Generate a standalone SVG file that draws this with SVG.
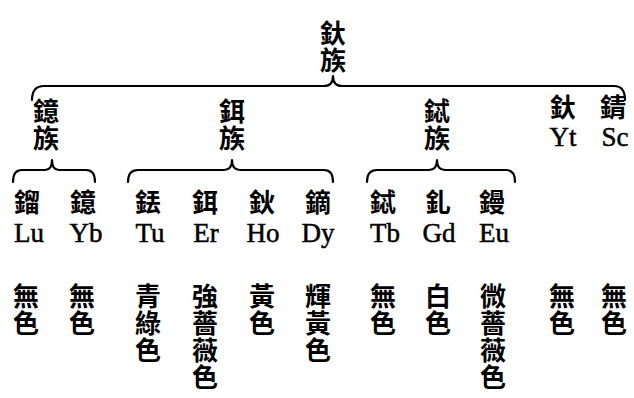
<svg xmlns="http://www.w3.org/2000/svg" width="634" height="398" viewBox="0 0 634 398">
<style>
.c{font-family:"Noto Sans CJK TC","Noto Sans CJK JP",sans-serif;font-size:26px;font-weight:bold;fill:#000;text-anchor:middle}
.v{font-family:"Noto Sans CJK TC","Noto Sans CJK JP",sans-serif;font-size:26px;font-weight:bold;fill:#000;writing-mode:vertical-rl;letter-spacing:1px}
.l{font-family:"Liberation Serif",serif;font-size:27px;fill:#000;stroke:#000;stroke-width:0.5;text-anchor:middle}
.b{fill:none;stroke:#000;stroke-width:2.2;stroke-linecap:round;stroke-linejoin:round}
</style>
<rect width="634" height="398" fill="#fff"/>
<g id="connectors">
<path class="b" d="M32,100 Q32,86 44,86 L324,86 Q333,86 333,76 Q333,86 342,86 L614,86 Q625,86 625,100"/>
<path class="b" d="M13,182 Q13,170 22,170 L45,170 Q52,170 52,160 Q52,170 59,170 L86,170 Q95,170 95,182"/>
<path class="b" d="M128,182 Q128,170 138,170 L224,170 Q232,170 232,160 Q232,170 240,170 L324,170 Q333,170 333,182"/>
<path class="b" d="M367,182 Q367,170 377,170 L429,170 Q437,170 437,160 Q437,170 445,170 L506,170 Q515,170 515,182"/>
</g>
<g id="root"><text class="v" x="333" y="20">釱族</text></g>
<g id="yb-group"><text class="v" x="46" y="98">鐿族</text></g>
<g id="er-group"><text class="v" x="232" y="98">鉺族</text></g>
<g id="tb-group"><text class="v" x="437" y="98">鋱族</text></g>
<g id="yt"><text class="c" x="563" y="117">釱</text><text class="l" x="563" y="146">Yt</text><text class="v" x="562" y="283">無色</text></g>
<g id="sc"><text class="c" x="613" y="117">錆</text><text class="l" x="615" y="146">Sc</text><text class="v" x="614" y="283">無色</text></g>
<g id="lu"><text class="c" x="27" y="212">鎦</text><text class="l" x="29" y="242">Lu</text><text class="v" x="26" y="283">無色</text></g>
<g id="yb"><text class="c" x="83" y="212">鐿</text><text class="l" x="86" y="242">Yb</text><text class="v" x="82" y="283">無色</text></g>
<g id="tu"><text class="c" x="148" y="212">銩</text><text class="l" x="150" y="242">Tu</text><text class="v" x="148" y="283">青綠色</text></g>
<g id="er"><text class="c" x="205" y="212">鉺</text><text class="l" x="206" y="242">Er</text><text class="v" x="205" y="283">強薔薇色</text></g>
<g id="ho"><text class="c" x="262" y="212">鈥</text><text class="l" x="263" y="242">Ho</text><text class="v" x="262" y="283">黃色</text></g>
<g id="dy"><text class="c" x="318" y="212">鏑</text><text class="l" x="318" y="242">Dy</text><text class="v" x="318" y="283">輝黃色</text></g>
<g id="tb"><text class="c" x="383" y="212">鋱</text><text class="l" x="385" y="242">Tb</text><text class="v" x="383" y="283">無色</text></g>
<g id="gd"><text class="c" x="438" y="212">釓</text><text class="l" x="439" y="242">Gd</text><text class="v" x="438" y="283">白色</text></g>
<g id="eu"><text class="c" x="492" y="212">鏝</text><text class="l" x="494" y="242">Eu</text><text class="v" x="493" y="283">微薔薇色</text></g>
</svg>
